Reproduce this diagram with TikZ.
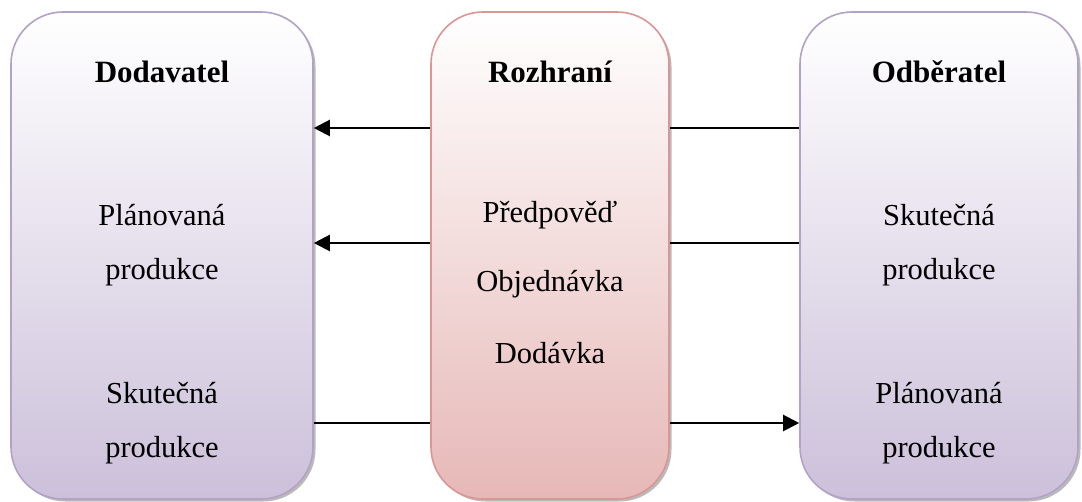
\documentclass[tikz,border=0pt]{standalone}
\usepackage{fontspec}
\setmainfont{Liberation Serif}
\usetikzlibrary{arrows.meta,shadows}
\definecolor{purpborder}{HTML}{B3A2C7}
\definecolor{purpfill}{HTML}{CCC0DA}
\definecolor{redborder}{HTML}{D99694}
\definecolor{redfill}{HTML}{E6B8B7}
\tikzset{
  box/.style={rounded corners=52pt, line width=1.6pt, inner sep=0pt,
    drop shadow={shadow xshift=2.5pt, shadow yshift=-2.5pt, fill=black!45, opacity=0.6}},
  pbox/.style={box, draw=purpborder, top color=white, bottom color=purpfill},
  rbox/.style={box, draw=redborder, top color=white, bottom color=redfill},
  title/.style={font=\fontsize{31}{31}\selectfont\bfseries},
  txt/.style={font=\fontsize{30.5}{30.5}\selectfont},
  arr/.style={line width=2.2pt, -{Triangle[length=16pt,width=16pt]}},
  ln/.style={line width=1.4pt},
}
\begin{document}
\begin{tikzpicture}[x=1pt,y=-1pt]
\useasboundingbox (0,0) rectangle (1082,502);
\node[pbox, minimum width=302pt, minimum height=487pt] (D) at (162,255.5) {};
\node[rbox, minimum width=238pt, minimum height=487pt] (R) at (550,255.5) {};
\node[pbox, minimum width=278pt, minimum height=487pt] (O) at (939,255.5) {};

\node[title] (tD) at (162,72) {Dodavatel};
\node[title] (tR) at (550,72) {Rozhraní};
\node[title] (tO) at (939,72) {Odběratel};

\node[txt] (d1) at (162,215) {Plánovaná};
\node[txt] (d2) at (162,272) {produkce};
\node[txt] (d3) at (162,393) {Skutečná};
\node[txt] (d4) at (162,450) {produkce};

\node[txt] (r1) at (550,215) {Předpověď};
\node[txt] (r2) at (550,284) {Objednávka};
\node[txt] (r3) at (550,353) {Dodávka};

\node[txt] (o1) at (939,215) {Skutečná};
\node[txt] (o2) at (939,272) {produkce};
\node[txt] (o3) at (939,393) {Plánovaná};
\node[txt] (o4) at (939,450) {produkce};

\coordinate (ya) at (0,128);
\coordinate (yb) at (0,243);
\coordinate (yc) at (0,423);

\draw[arr] (R.west |- ya) -- (D.east |- ya);
\draw[ln] (R.east |- ya) -- (O.west |- ya);
\draw[arr] (R.west |- yb) -- (D.east |- yb);
\draw[ln] (R.east |- yb) -- (O.west |- yb);
\draw[ln] (D.east |- yc) -- (R.west |- yc);
\draw[arr] (R.east |- yc) -- (O.west |- yc);
\end{tikzpicture}
\end{document}
